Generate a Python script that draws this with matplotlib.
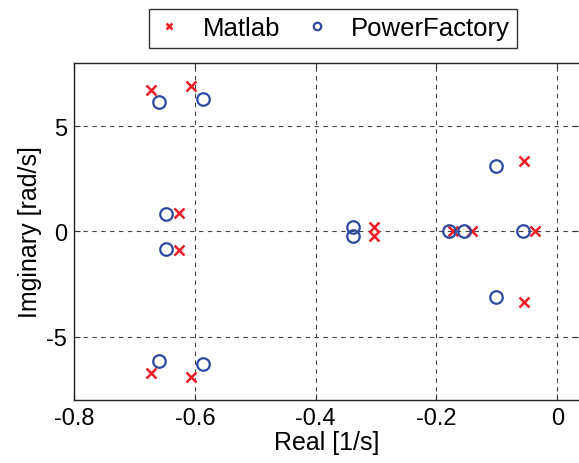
import numpy as np
import matplotlib
matplotlib.use("Agg")
import matplotlib.pyplot as plt

plt.rcParams['font.family'] = ['Liberation Sans', 'DejaVu Sans']

# eigenvalues
matlab_re = [-0.673, -0.673, -0.607, -0.607, -0.626, -0.626, -0.303, -0.303,
             -0.172, -0.141, -0.055, -0.055, -0.037]
matlab_im = [6.74, -6.74, 6.92, -6.92, 0.89, -0.89, 0.21, -0.21,
             0.0, 0.0, 3.37, -3.37, 0.0]
pf_re = [-0.659, -0.659, -0.586, -0.586, -0.648, -0.648, -0.338, -0.338,
         -0.180, -0.155, -0.101, -0.101, -0.056]
pf_im = [6.13, -6.13, 6.28, -6.28, 0.83, -0.83, 0.23, -0.23,
         0.0, 0.0, 3.10, -3.10, 0.0]

xticks = [-0.8, -0.6, -0.4, -0.2, 0]
yticks = [-5, 0, 5]

fig = plt.figure(figsize=(5.79, 4.64), dpi=100)
ax = fig.add_axes([0.128, 0.136, 0.871, 0.726])

ax.plot(matlab_re, matlab_im, linestyle='none', marker='x', color='#ee1c25',
        markersize=7, markeredgewidth=1.8, label='Matlab', zorder=3)
ax.plot(pf_re, pf_im, linestyle='none', marker='o', markerfacecolor='none',
        markeredgecolor='#2e4a9e', markersize=9, markeredgewidth=1.6,
        label='PowerFactory', zorder=3)

ax.set_xlim(-0.8, 0.035)
ax.set_ylim(-8, 8)
ax.set_xticks(xticks)
ax.set_xticklabels(['-0.8', '-0.6', '-0.4', '-0.2', '0'])
ax.set_yticks(yticks)
ax.set_yticklabels(['-5', '0', '5'])
ax.tick_params(direction='in', top=True, right=True, labelsize=17, length=4,
               width=0.8, color='#333333', pad=5)
ax.grid(True, linestyle=(0, (4, 4)), color='#444444', linewidth=0.8)
for s in ax.spines.values():
    s.set_linewidth(1.0)
    s.set_color('#222222')
ax.spines['right'].set_visible(False)

ax.set_xlabel('Real [1/s]', fontsize=18, labelpad=1)
ax.set_ylabel('Imginary [rad/s]', fontsize=18, labelpad=3)

leg = ax.legend(loc='center', bbox_to_anchor=(0.575, 0.937), bbox_transform=fig.transFigure,
                ncol=2, fontsize=18.5, markerscale=0.6, frameon=True, fancybox=False,
                edgecolor='black', handlelength=1.0, handletextpad=0.8,
                columnspacing=0.95, borderpad=0.3)
leg.get_frame().set_linewidth(1.0)

fig.savefig('out.png', dpi=100)
